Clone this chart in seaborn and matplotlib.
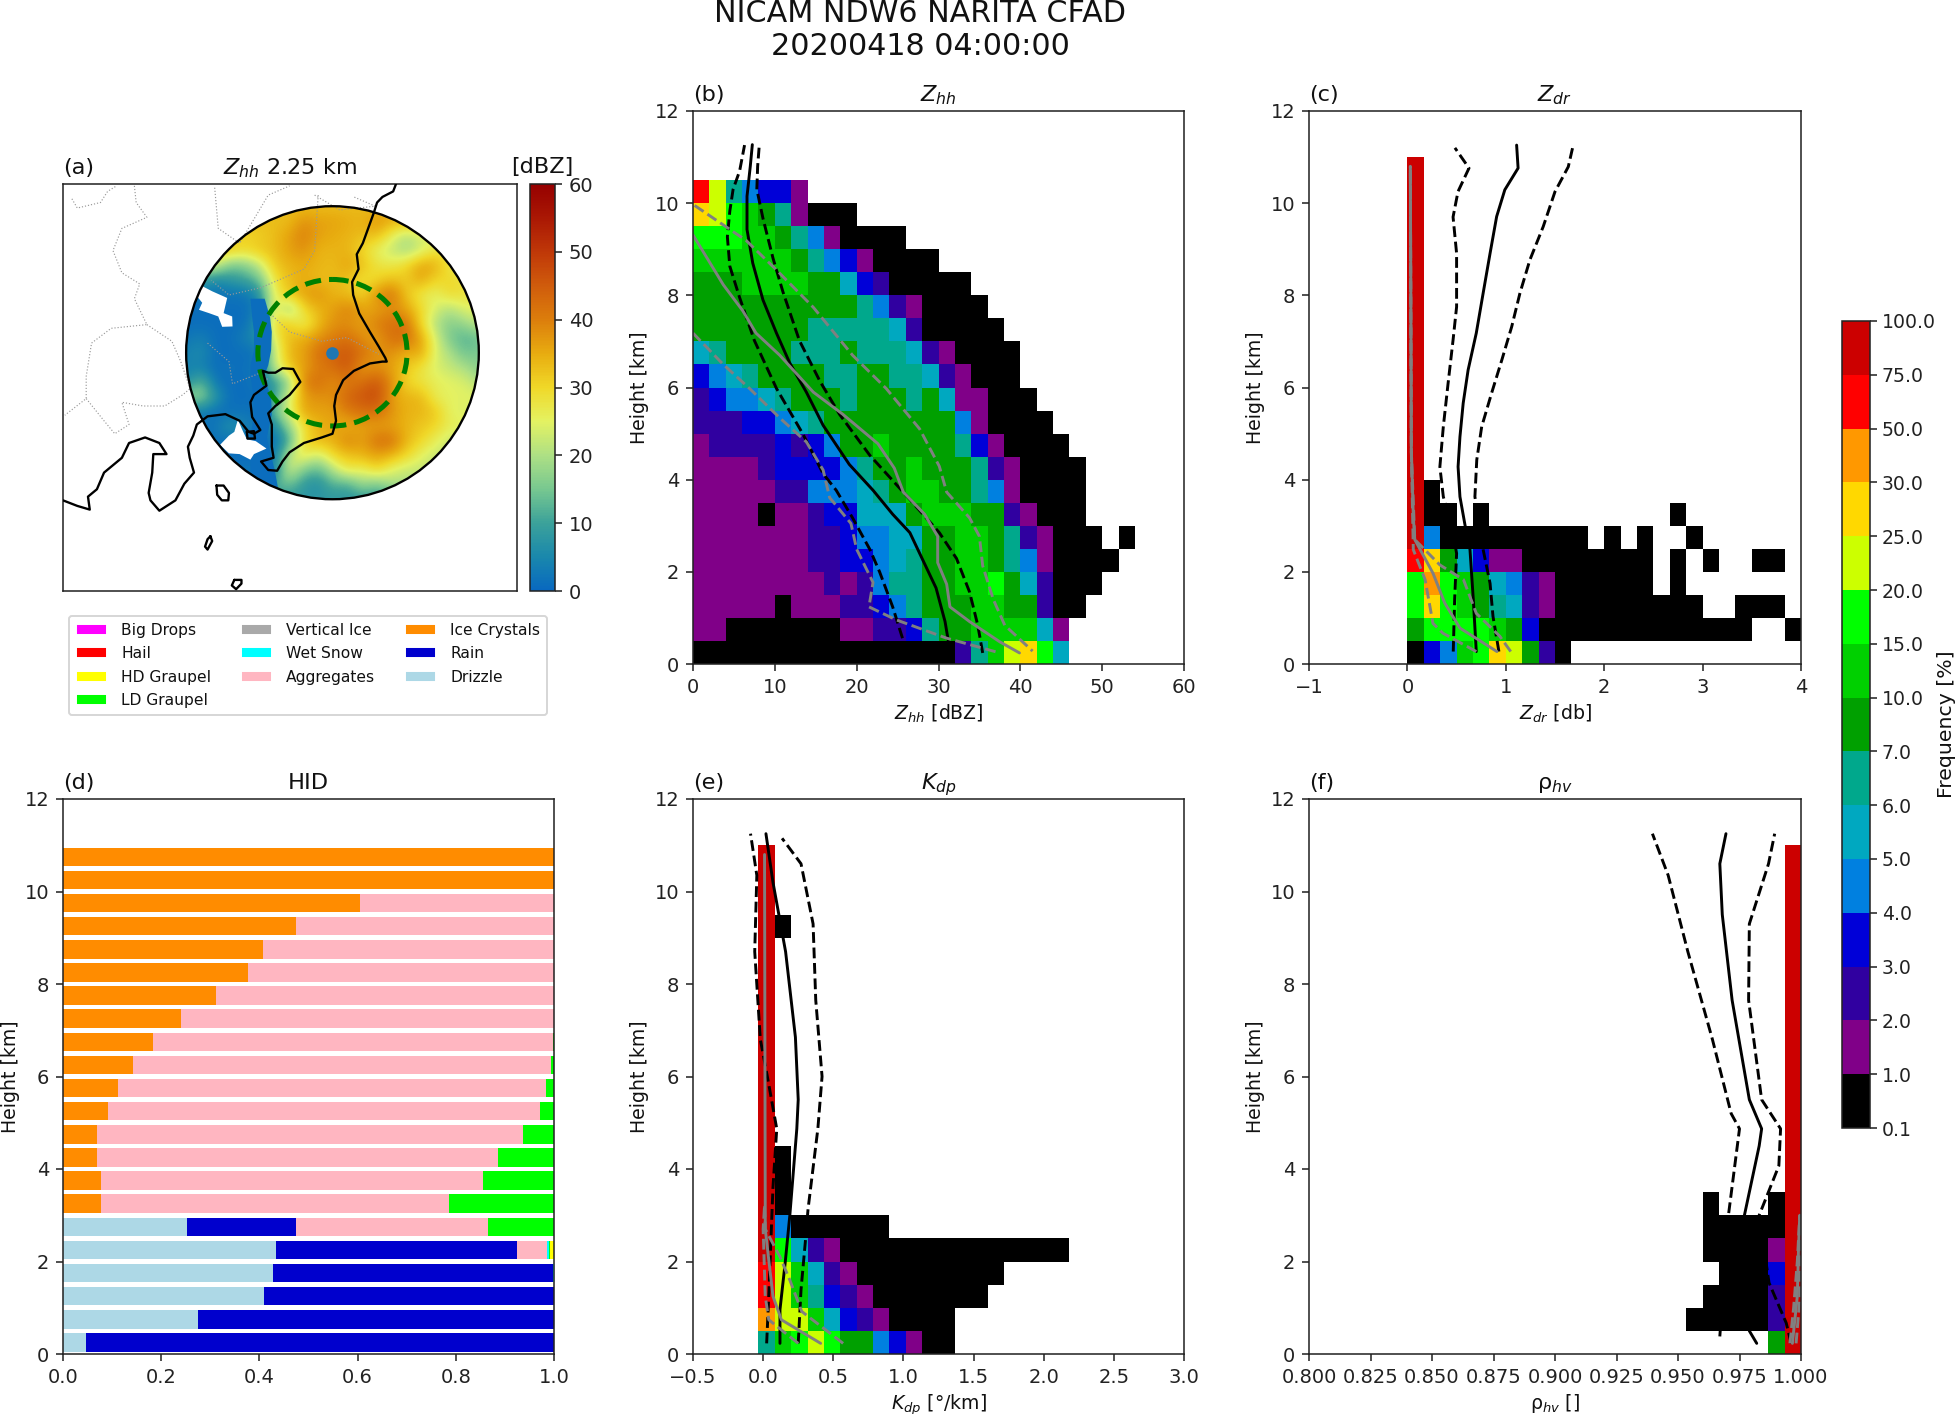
import numpy as np
import pandas as pd
import matplotlib
matplotlib.use("Agg")
import matplotlib.pyplot as plt
from matplotlib.colors import ListedColormap, BoundaryNorm, LinearSegmentedColormap, Normalize
from matplotlib.cm import ScalarMappable
from matplotlib.patches import Ellipse, Patch, Polygon
import seaborn as sns

nan = float("nan")
W, H = 1960, 1414

SUPTITLE = "NICAM NDW6 NARITA CFAD\n20200418 04:00:00"
FREQ_LEVELS = [0.1, 1, 2, 3, 4, 5, 6, 7, 10, 15, 20, 25, 30, 50, 75, 100]
FREQ_COLORS = ["#000000", "#800088", "#3000a0", "#0000d8", "#0080e0", "#00a8c0", "#00a88c",
               "#00a000", "#00d000", "#00ff00", "#ccff00", "#ffd800", "#ff9800", "#ff0000", "#cc0000"]
HEIGHT_STEP = 0.5

# CFAD frequencies [%], one list per height bin from the ground upward
ZHH_FREQ = [
    [.5]*16 + [2.5, 6.5, 12, 22, 27, 17, 5.5],
    [1.5]*2 + [.5]*7 + [1.5]*2 + [2.5]*2 + [3.5, 6.5, 8, 8, 12, 12, 12, 12, 5.5, 1.5],
    [1.5]*5 + [.5] + [1.5]*3 + [2.5]*2 + [3.5, 4.5, 6.5, 8, 8, 8, 12, 12, 8, 8, 2.5, .5, .5],
    [1.5]*8 + [2.5, 1.5, 2.5, 4.5, 6.5, 6.5, 8, 8, 12, 12, 17, 8, 5.5, 2.5, .5, .5, .5],
    [1.5]*7 + [2.5, 2.5, 3.5, 3.5, 4.5, 5.5, 6.5, 8, 8, 12, 12, 8, 6.5, 4.5, 1.5, .5, .5, .5, .5],
    [1.5]*7 + [2.5, 2.5, 3.5, 4.5, 4.5, 5.5, 5.5, 8, 8, 12, 12, 8, 6.5, 2.5, 1.5, .5, .5, .5, nan, .5],
    [1.5]*4 + [.5] + [1.5]*2 + [2.5, 3.5, 3.5, 5.5, 5.5, 5.5, 8, 12, 12, 12, 8, 8, 2.5, 1.5, .5, .5, .5],
    [1.5]*5 + [2.5, 2.5, 4.5, 4.5, 4.5, 5.5, 6.5, 8, 12, 12, 8, 8, 6.5, 4.5, 1.5, .5, .5, .5, .5],
    [1.5]*4 + [2.5, 3.5, 3.5, 3.5, 3.5, 4.5, 6.5, 8, 8, 12, 8, 8, 8, 6.5, 2.5, 1.5, .5, .5, .5, .5],
    [1.5] + [2.5]*4 + [3.5, 2.5, 3.5, 4.5, 8, 8, 12, 8, 8, 8, 8, 6.5, 3.5, 1.5, .5, .5, .5, .5],
    [2.5]*3 + [3.5, 3.5, 4.5, 5.5, 6.5] + [8]*8 + [4.5, 1.5, .5, .5, .5, .5],
    [2.5, 3.5, 4.5, 4.5, 5.5, 6.5, 8, 8, 8, 6.5, 8, 8, 8, 6.5, 8, 5.5, 1.5, 1.5, .5, .5, .5],
    [3.5, 4.5, 5.5, 6.5, 8, 8, 8, 8, 6.5, 6.5, 8, 8, 6.5, 6.5, 5.5, 2.5, 1.5, .5, .5, .5],
    [5.5, 6.5, 8, 8, 8, 8, 6.5, 6.5, 6.5, 8, 6.5, 6.5, 6.5, 5.5, 2.5, 1.5, .5, .5, .5, .5],
    [8]*7 + [6.5]*5 + [5.5, 2.5] + [.5]*5,
    [8]*10 + [6.5, 4.5, 2.5, 1.5] + [.5]*4,
    [8]*3 + [12]*4 + [8, 8, 5.5, 3.5, 2.5] + [.5]*5,
    [12]*6 + [8, 6.5, 4.5, 3.5, 1.5] + [.5]*4,
    [17]*3 + [12, 12, 8, 6.5, 4.5, 1.5] + [.5]*4,
    [27, 22, 17, 12, 8, 6.5, 1.5] + [.5]*3,
    [60, 22, 6.5, 4.5, 3.5, 3.5, 1.5],
]
ZDR_FREQ = [
    [.5, 3.5, 4.5, 12, 17, 27, 22, 8, 2.5, .5],
    [8, 17, 17, 17, 17, 12, 8, 3.5] + [.5]*13 + [nan, nan, .5],
    [17, 27, 17, 12, 8, 6.5, 5.5, 2.5, 1.5] + [.5]*9 + [nan, nan] + [.5]*3,
    [17, 40, 17, 12, 8, 5.5, 4.5, 2.5, 1.5] + [.5]*6 + [nan, .5],
    [60, 27, 8, 5.5, 3.5, 1.5, 1.5] + [.5]*8 + [nan, .5, nan, .5, nan, nan, .5, .5],
    [90, 4.5] + [.5]*9 + [nan, .5, nan, .5, nan, nan, .5],
    [90, .5, .5, nan, .5] + [nan]*11 + [.5],
    [90, .5],
] + [[90]]*14
KDP_FREQ = [
    [6.5, 12, 17, 22, 17, 8, 8, 4.5, 3.5, 1.5, .5, .5],
    [40, 22, 22, 12, 5.5, 3.5, 2.5, 1.5, .5, .5, .5, .5],
    [60, 22, 12, 6.5, 3.5, 2.5, 1.5] + [.5]*7,
    [60, 22, 12, 5.5, 2.5, 1.5] + [.5]*9,
    [90, 17, 5.5, 2.5, 1.5] + [.5]*14,
    [90, 4.5] + [.5]*6,
    [90, .5], [90, .5], [90, .5],
] + [[90]]*9 + [[90, .5]] + [[90]]*3
RHO_FREQ = [
    [nan]*5 + [8, 90],
    [.5]*5 + [2.5, 90],
    [nan] + [.5]*4 + [2.5, 90],
    [nan, nan] + [.5]*3 + [3.5, 90],
    [nan] + [.5]*4 + [1.5, 90],
    [nan] + [.5]*5 + [90],
    [nan, .5, nan, nan, nan, .5, 90],
] + [[nan]*6 + [90]]*15

# Profiles: value and height [km]
ZHH_MEAN_X = [31.2, 30.8, 29.7, 28.1, 26.5, 24.4, 22, 19.1, 15.9, 13.85, 11.8, 10.2, 8.55, 7.3, 6.6, 6.6, 7, 7.25]
ZHH_MEAN_Y = [.5, .92, 1.65, 2.25, 2.85, 3.25, 3.77, 4.33, 5.18, 5.9, 6.54, 7.18, 7.9, 8.7, 9.43, 10.15, 10.8, 11.27]
ZHH_Q1_X = [25.6, 24.4, 22.8, 21.6, 19.5, 17.5, 15.9, 13.4, 10.2, 7.5, 5.7, 4.5, 4.2, 4.5, 4.9, 5.7, 6.3]
ZHH_Q1_Y = [.56, 1.24, 2, 2.49, 3.17, 3.77, 4.13, 5, 5.98, 7.02, 7.95, 8.63, 9.27, 9.83, 10.3, 10.7, 11.26]
ZHH_Q3_X = [35.4, 34.8, 33.8, 32.2, 30.1, 26.1, 21.6, 17.9, 15.5, 13, 11, 9.8, 8.55, 7.8, 7.9, 8.1]
ZHH_Q3_Y = [.24, .84, 1.56, 2.29, 2.85, 3.65, 4.53, 5.42, 6.14, 7.02, 8.07, 8.79, 9.67, 10.3, 10.8, 11.26]
ZHH_MED_X = [0, 3.7, 6.1, 7.7, 10.6, 14.7, 18.3, 22.6, 24.6, 25.7, 28.3, 29.9, 29.9, 31, 31.4, 33.8, 37.5, 39.9]
ZHH_MED_Y = [9.31, 8.23, 7.66, 7.18, 6.7, 5.9, 5.42, 4.78, 4.25, 3.73, 3.25, 2.77, 2.2, 1.73, 1.24, .92, .48, .24]
ZHH_LOW_X = [0, 3.7, 6.9, 10.6, 13.85, 15.9, 16.7, 19.3, 20, 22, 21.5, 24.8, 31, 37.5]
ZHH_LOW_Y = [7.18, 6.5, 5.98, 5.34, 4.82, 4.21, 3.61, 3.05, 2.49, 1.77, 1.24, .96, .56, .24]
ZHH_UPP_X = [.2, 6.5, 10.2, 14.7, 19.5, 23.6, 27.7, 30.1, 31, 33.8, 35, 35.4, 36.7, 38.1, 41.5]
ZHH_UPP_Y = [9.95, 9.19, 8.55, 7.74, 6.7, 5.98, 5.1, 4.29, 3.73, 3.17, 2.77, 2.13, 1.4, .84, .28]

ZDR_MEAN_X = [.70, .67, .636, .585, .534, .515, .534, .567, .617, .70, .77, .84, .907, .99, 1.125, 1.11]
ZDR_MEAN_Y = [.27, 1.39, 2.48, 3.02, 3.63, 4.28, 4.93, 5.66, 6.38, 7.18, 8.05, 8.91, 9.71, 10.29, 10.76, 11.26]
ZDR_Q1_X = [.466, .48, .5, .45, .365, .33, .365, .414, .464, .50, .50, .464, .514, .626, .483]
ZDR_Q1_Y = [.27, 1.39, 2.4, 3.0, 3.63, 4.28, 5.15, 6.1, 7.03, 7.75, 8.91, 9.7, 10.25, 10.76, 11.2]
ZDR_Q3_X = [.93, .87, .84, .77, .686, .705, .755, .856, .96, 1.06, 1.144, 1.245, 1.38, 1.50, 1.635, 1.683]
ZDR_Q3_Y = [.27, 1.03, 1.75, 2.48, 3.63, 4.43, 5.15, 5.88, 6.6, 7.32, 8.05, 8.77, 9.49, 10.25, 10.79, 11.24]
ZDR_MED_X = [.91, .534, .38, .26, .075, .06, .04, .03]
ZDR_MED_Y = [.27, .78, 1.32, 1.97, 2.7, 3.2, 4.65, 10.8]
ZDR_LOW_X = [.70, .36, .26, .18, .06, .04, .03]
ZDR_LOW_Y = [.27, .67, .88, 1.83, 2.48, 4.6, 10.8]
ZDR_UPP_X = [1.05, .94, .70, .57, .33, .075, .04, .03]
ZDR_UPP_Y = [.27, .6, 1.1, 1.83, 2.15, 2.7, 4.6, 10.8]

KDP_MEAN_X = [.12, .12, .157, .19, .24, .25, .23, .16, .07, .02]
KDP_MEAN_Y = [.23, .96, 1.97, 2.99, 4.87, 5.5, 6.85, 8.7, 10.2, 11.25]
KDP_Q1_X = [.025, .04, .07, .097, .03, -.02, -.06, -.045, -.09]
KDP_Q1_Y = [.23, 1.25, 3.6, 4.87, 6, 6.8, 8.7, 10.35, 11.25]
KDP_Q3_X = [.25, .27, .3, .32, .39, .42, .375, .356, .27, .135]
KDP_Q3_Y = [.23, 1.39, 2.4, 3.13, 4.87, 6.0, 7.65, 9.3, 10.6, 11.15]
KDP_MED_X = [.41, .13, .07, .015, .015, .01]
KDP_MED_Y = [.23, .74, 1.25, 2.7, 3, 10.8]
KDP_LOW_X = [.25, .04, .015, 0, .01]
KDP_LOW_Y = [.23, .74, 1.25, 2.7, 3.2]
KDP_UPP_X = [.57, .275, .19, .12, .015, .01]
KDP_UPP_Y = [.23, .92, 1.6, 2.1, 2.7, 3.2]

RHO_MEAN_X = [.982, .979, .975, .977, .983, .984, .979, .972, .968, .967, .9695]
RHO_MEAN_Y = [.23, .5, 2, 3, 4.5, 4.87, 5.5, 7.65, 9.5, 10.6, 11.25]
RHO_Q1_X = [.967, .9705, .975, .9716, .964, .954, .946, .9396]
RHO_Q1_Y = [.38, 3, 4.87, 5.2, 6.8, 8.7, 10.35, 11.25]
RHO_Q3_X = [.996, .994, .987, .983, .986, .991, .9917, .984, .9787, .979, .9868, .9893]
RHO_Q3_Y = [.23, .67, 1.54, 3, 3.4, 4.07, 4.87, 5.5, 7.65, 9.3, 10.6, 11.25]
RHO_MED_X = [.9965, .9985, .999, .9995]
RHO_MED_Y = [.23, 1.25, 2.3, 3]
RHO_LOW_X = [.9955, .997, .9985, .9995]
RHO_LOW_Y = [.23, 1.0, 2.0, 3]
RHO_UPP_X = [.998, .9995, .9995]
RHO_UPP_Y = [.23, 1.2, 3]

# HID fractions per height bin, from the ground upward
HID_DRIZZLE = [.047, .275, .41, .428, .434, .253] + [0]*16
HID_RAIN = [.953, .725, .59, .570, .491, .221] + [0]*16
HID_ICE = [0]*6 + [.078, .078, .07, .07, .092, .111, .142, .184, .24, .312, .376, .407, .474, .605, 1, 1]
HID_AGG = [0, 0, 0, 0, .06, .392, .708, .778, .816, .866, .879, .872, .852, .814, .76, .688, .624, .593, .526, .395, 0, 0]
HID_WET = [0, 0, 0, .002, .004] + [0]*17
HID_LD = [0, 0, 0, 0, .003, .134, .214, .144, .114, .064, .029, .017, .006, .002] + [0]*8
HID_HD = [0, 0, 0, 0, .008] + [0]*17
HID_STACK = [("Drizzle", HID_DRIZZLE, "lightblue"), ("Rain", HID_RAIN, "#0000cd"),
             ("Ice Crystals", HID_ICE, "darkorange"), ("Aggregates", HID_AGG, "lightpink"),
             ("Wet Snow", HID_WET, "cyan"), ("LD Graupel", HID_LD, "lime"), ("HD Graupel", HID_HD, "yellow")]
LEGEND_ITEMS = [("Big Drops", "magenta"), ("Hail", "red"), ("HD Graupel", "yellow"), ("LD Graupel", "lime"),
                ("Vertical Ice", "darkgray"), ("Wet Snow", "cyan"), ("Aggregates", "lightpink"),
                ("Ice Crystals", "darkorange"), ("Rain", "#0000cd"), ("Drizzle", "lightblue")]

# Map panel: reflectivity [dBZ] read on a regular grid across the radar disc, top row first
MAP_X = list(range(410, 1231, 41))
MAP_Y = [180, 220, 259, 299, 338, 378, 418, 457, 497, 536, 576, 616, 655, 695, 734, 774, 814, 853, 893, 932, 972]
MAP_DBZ = [
    [33]*21,
    [33]*7 + [33, 38, 36, 36, 35, 34, 38, 35] + [35]*6,
    [30]*4 + [30, 31, 33, 36, 40, 36, 35, 34, 33, 33, 26, 20, 24] + [24]*4,
    [32]*3 + [32, 30, 32, 33, 36, 38, 34, 34, 34, 30, 25, 22, 19, 23, 28] + [28]*3,
    [24]*2 + [24, 15, 16, 22, 32, 34, 35, 34, 33, 36, 33, 28, 27, 30, 36, 35, 27] + [27]*2,
    [10, 10, 5, 8, 10, 14, 28, 33, 35, 33, 33, 33, 28, 30, 33, 31, 36, 30, 30, 28, 28],
    [2, 2, 2, 2, 2, 6, 26, 32, 36, 38, 34, 33, 30, 38, 42, 32, 27, 25, 30, 28, 28],
    [1, 1, 1, 1, 1, 4, 28, 16, 30, 34, 36, 40, 36, 36, 38, 36, 30, 24, 20, 25, 25],
    [1, 1, 1, 1, 1, 8, 30, 32, 25, 33, 38, 38, 36, 40, 42, 42, 30, 20, 16, 18, 22],
    [2, 4, 1, 1, 4, 6, 26, 33, 35, 38, 40, 42, 38, 36, 42, 42, 36, 24, 15, 12, 14],
    [4, 6, 1, 1, 1, 2, 22, 34, 36, 42, 44, 46, 42, 38, 38, 34, 36, 24, 20, 14, 16],
    [4, 4, 1, 2, 1, 4, 22, 32, 36, 40, 42, 46, 36, 38, 36, 32, 28, 24, 22, 20, 16],
    [5, 14, 2, 1, 1, 3, 8, 16, 40, 42, 38, 40, 42, 46, 38, 30, 28, 26, 25, 24, 20],
    [18, 18, 8, 1, 1, 1, 10, 24, 36, 38, 38, 44, 46, 48, 36, 34, 34, 26, 25, 25, 25],
    [3, 3, 1, 1, 2, 1, 14, 24, 36, 36, 36, 40, 42, 42, 38, 34, 34, 32, 25, 24, 24],
    [2, 2, 2, 8, 4, 2, 5, 18, 28, 34, 36, 34, 36, 36, 36, 34, 32, 30, 26, 26, 26],
    [2, 2, 2, 1, 1, 1, 1, 10, 30, 34, 34, 40, 36, 42, 42, 34, 30, 26, 22, 22, 22],
    [1, 1, 1, 1, 1, 1, 3, 22, 28, 22, 30, 32, 34, 36, 34, 30, 25, 22, 22, 22, 22],
    [2, 2, 2, 2, 2, 2, 3, 24, 15, 12, 20, 28, 25, 30, 24, 22, 22, 22, 22, 22, 22],
    [5]*6 + [12, 14, 8, 6, 12, 10, 18, 14, 20] + [20]*6,
    [8]*21,
]
NO_ECHO_AREAS = [
    ([455, 483, 525, 515, 539, 540, 511, 500, 474, 446, 455, 441],
     [396, 410, 428, 469, 478, 505, 506, 478, 469, 460, 441, 424]),
    ([555, 570, 580, 605, 635, 600, 590, 560, 530, 505, 530, 545],
     [757, 790, 810, 815, 835, 850, 865, 850, 848, 825, 800, 790]),
]
# Strip along the sharp eastern edge of the weakest echoes
WEAK_EDGE_X = [630, 645, 650, 648, 640, 628, 648, 650, 636, 659, 668, 620, 590, 590, 600, 600, 590, 590, 600, 600, 595, 590]
WEAK_EDGE_Y = [430, 480, 520, 570, 610, 640, 698, 743, 806, 897, 945, 945, 897, 806, 743, 698, 640, 610, 570, 520, 480, 430]
COAST_X = [998, 990, 960, 945, 935, 920, 905, 888, 893, 875, 878, 895, 925, 950, 968, 972, 960, 925, 880, 850, 830, 825, 830, 820, 790, 740, 700, 680, 665, 640, 620, 655, 650, 650, 640, 660, 700, 730, 710, 680, 660, 640, 625, 635, 600, 590, 595, 618, 600, 585, 560, 520, 470, 440, 430, 415, 420, 432, 405, 380, 335, 310, 305, 315, 318, 355, 335, 295, 250, 230, 180, 160, 135, 140, 105, 65]
COAST_Y = [120, 140, 155, 170, 200, 240, 280, 310, 350, 385, 420, 470, 520, 560, 590, 600, 600, 605, 625, 650, 690, 720, 760, 795, 805, 820, 845, 870, 895, 893, 870, 860, 830, 770, 740, 720, 690, 655, 620, 618, 630, 630, 625, 665, 690, 710, 750, 785, 795, 790, 760, 742, 748, 770, 800, 830, 860, 900, 930, 975, 1003, 975, 955, 900, 850, 850, 820, 805, 820, 860, 900, 945, 965, 1000, 990, 975]
ISLANDS = [
    ([495, 515, 530, 528, 510, 497, 495], [935, 935, 955, 975, 975, 960, 935]),
    ([478, 483, 470, 463, 470, 478], [1072, 1085, 1108, 1100, 1080, 1072]),
    ([545, 565, 565, 550, 538, 545], [1190, 1190, 1200, 1215, 1205, 1190]),
    ([580, 600, 603, 582, 580], [790, 788, 808, 808, 790]),
]
BORDERS = [
    ([90, 105, 170, 190, 215], [160, 185, 170, 140, 125]),
    ([265, 270, 300, 230, 205, 230, 280, 265, 300, 200, 145, 130, 130, 70], [125, 170, 210, 240, 300, 360, 390, 430, 500, 510, 550, 640, 700, 745]),
    ([300, 370, 395, 420], [500, 545, 600, 670]),
    ([130, 180, 210, 250, 230, 290, 350, 400, 425], [700, 760, 795, 770, 710, 720, 720, 690, 670]),
    ([640, 700, 790, 860, 950], [465, 520, 545, 535, 580]),
    ([470, 530, 540, 620, 640], [550, 600, 660, 630, 650]),
    ([780, 770, 740, 620, 530, 480], [150, 300, 350, 400, 420, 380]),
    ([770, 840, 940, 880], [150, 190, 180, 155]),
    ([490, 500, 560, 640, 700], [130, 240, 280, 150, 125]),
]

sns.set_style("ticks", {"axes.edgecolor": "#222222", "xtick.color": "#222222", "ytick.color": "#222222",
                        "text.color": "#111111", "axes.labelcolor": "#111111",
                        "xtick.direction": "out", "ytick.direction": "out"})
plt.rcParams.update({"font.size": 10, "font.family": ["DejaVu Sans"], "axes.titlesize": 11.5, "axes.labelsize": 9.7,
                     "xtick.labelsize": 10, "ytick.labelsize": 10, "mathtext.default": "it"})

fig = plt.figure(figsize=(W/140, H/140), dpi=140)


def px_axes(left, top, right, bottom):
    return fig.add_axes([left/W, 1-bottom/H, (right-left)/W, (bottom-top)/H])


freq_cmap = ListedColormap(FREQ_COLORS)
freq_norm = BoundaryNorm(FREQ_LEVELS, freq_cmap.N)


def draw_cfad(ax, rows, x_start, bin_width):
    n = max(len(r) for r in rows)
    grid = np.full((len(rows), n), np.nan)
    for i, r in enumerate(rows):
        grid[i, :len(r)] = r
    xe = x_start + bin_width*np.arange(n+1)
    ye = HEIGHT_STEP*np.arange(len(rows)+1)
    ax.pcolormesh(xe, ye, np.ma.masked_invalid(grid), cmap=freq_cmap, norm=freq_norm, edgecolors="none", linewidth=0, rasterized=True)


def prof(ax, x, y, color, dash=False):
    df = pd.DataFrame({"x": x, "y": y})
    sns.lineplot(data=df, x="x", y="y", sort=False, estimator=None, color=color,
                 linestyle="--" if dash else "-", linewidth=1.5, ax=ax, legend=False)


def finish(ax, tag, title, xlabel, xlim, xticks):
    ax.set_xlim(*xlim)
    ax.set_ylim(0, 12)
    ax.set_xticks(xticks)
    ax.set_yticks(range(0, 13, 2))
    ax.set_ylabel("Height [km]", labelpad=3)
    ax.set_xlabel(xlabel, labelpad=3)
    ax.set_title(tag, loc="left", pad=5)
    ax.set_title(title, loc="center", pad=5)


def panel(box, rows, x_start, bw, black, gray, tag, title, xlabel, xlim, xticks):
    ax = px_axes(*box)
    draw_cfad(ax, rows, x_start, bw)
    prof(ax, *black[0], "black")
    prof(ax, *black[1], "black", True)
    prof(ax, *black[2], "black", True)
    prof(ax, *gray[0], "gray")
    prof(ax, *gray[1], "gray", True)
    prof(ax, *gray[2], "gray", True)
    finish(ax, tag, title, xlabel, xlim, xticks)
    return ax


panel((693, 111, 1184, 664), ZHH_FREQ, 0, 2,
      [(ZHH_MEAN_X, ZHH_MEAN_Y), (ZHH_Q1_X, ZHH_Q1_Y), (ZHH_Q3_X, ZHH_Q3_Y)],
      [(ZHH_MED_X, ZHH_MED_Y), (ZHH_LOW_X, ZHH_LOW_Y), (ZHH_UPP_X, ZHH_UPP_Y)],
      "(b)", "$Z_{hh}$", "$Z_{hh}$ [dBZ]", (0, 60), range(0, 61, 10))
panel((1309, 111, 1801, 664), ZDR_FREQ, 0, 1/6,
      [(ZDR_MEAN_X, ZDR_MEAN_Y), (ZDR_Q1_X, ZDR_Q1_Y), (ZDR_Q3_X, ZDR_Q3_Y)],
      [(ZDR_MED_X, ZDR_MED_Y), (ZDR_LOW_X, ZDR_LOW_Y), (ZDR_UPP_X, ZDR_UPP_Y)],
      "(c)", "$Z_{dr}$", "$Z_{dr}$ [db]", (-1, 4), range(-1, 5))
panel((693, 799, 1184, 1354), KDP_FREQ, -0.5 + 4*3.5/30, 3.5/30,
      [(KDP_MEAN_X, KDP_MEAN_Y), (KDP_Q1_X, KDP_Q1_Y), (KDP_Q3_X, KDP_Q3_Y)],
      [(KDP_MED_X, KDP_MED_Y), (KDP_LOW_X, KDP_LOW_Y), (KDP_UPP_X, KDP_UPP_Y)],
      "(e)", "$K_{dp}$", "$K_{dp}$ [°/km]", (-0.5, 3), np.arange(-0.5, 3.01, 0.5))
axf = panel((1309, 799, 1801, 1354), RHO_FREQ, 1.0 - 7*0.2/30, 0.2/30,
            [(RHO_MEAN_X, RHO_MEAN_Y), (RHO_Q1_X, RHO_Q1_Y), (RHO_Q3_X, RHO_Q3_Y)],
            [(RHO_MED_X, RHO_MED_Y), (RHO_LOW_X, RHO_LOW_Y), (RHO_UPP_X, RHO_UPP_Y)],
            "(f)", "ρ$_{hv}$", "ρ$_{hv}$ []", (0.8, 1.0), np.arange(0.8, 1.001, 0.025))
axf.set_xticklabels([f"{v:.3f}" for v in np.arange(0.8, 1.001, 0.025)])

# (d) HID stacked bars
axd = px_axes(63, 799, 554, 1354)
h_centers = HEIGHT_STEP*(np.arange(22)+0.5)
left = np.zeros(22)
for name, vals, col in HID_STACK:
    axd.barh(h_centers, vals, left=left, height=0.4, color=col, linewidth=0)
    left = left + np.array(vals)
finish(axd, "(d)", "HID", "", (0, 1), np.arange(0, 1.01, 0.2))
axd.set_ylabel("Height [km]", labelpad=2.5)

# (a) map
axm = px_axes(63, 184, 517, 591)
field_cmap = LinearSegmentedColormap.from_list("zhh", [
    (0, "#0868c0"), (5/60, "#1a88ac"), (10/60, "#3ca29a"), (15/60, "#78c890"), (20/60, "#aee084"), (25/60, "#e4f262"),
    (30/60, "#f0d828"), (35/60, "#e8ac10"), (40/60, "#dc7e0c"), (45/60, "#d05c0c"), (50/60, "#c03808"), (55/60, "#aa1804"), (1, "#960000")])
field_norm = Normalize(0, 60)
dx, dy = 20.5, 19.8
im = axm.imshow(np.array(MAP_DBZ, dtype=float), cmap=field_cmap, norm=field_norm, aspect="auto", interpolation="bicubic",
                extent=(MAP_X[0]-dx, MAP_X[-1]+dx, MAP_Y[-1]+dy, MAP_Y[0]-dy))
disc = Ellipse((820, 576), 820, 792, transform=axm.transData, facecolor="none", edgecolor="black", linewidth=1.2, zorder=4)
axm.add_patch(disc)
im.set_clip_path(disc)
weak = Polygon(np.column_stack([WEAK_EDGE_X, WEAK_EDGE_Y]), closed=True, facecolor=field_cmap(field_norm(0.8)),
               edgecolor="none", zorder=1.5)
axm.add_patch(weak)
weak.set_clip_path(disc)
for ax_, ay_ in NO_ECHO_AREAS:
    hole = Polygon(np.column_stack([ax_, ay_]), closed=True, facecolor="white", edgecolor="none", zorder=2)
    axm.add_patch(hole)
    hole.set_clip_path(disc)
axm.add_patch(Ellipse((820, 576), 418, 396, facecolor="none", edgecolor="green", linewidth=2.6, linestyle=(0, (3.2, 1.6)), zorder=5))
for bx, by in BORDERS:
    axm.plot(bx, by, color="#999999", lw=0.6, ls=":", zorder=3)
axm.plot(COAST_X, COAST_Y, color="black", lw=1.2, zorder=6)
for ix, iy in ISLANDS:
    axm.plot(ix, iy, color="black", lw=1.2, zorder=6)
sns.scatterplot(x=[820], y=[576], color="tab:blue", s=42, linewidth=0, ax=axm, zorder=7, legend=False)
axm.set_xlim(65, 1337)
axm.set_ylim(1220, 120)
axm.set_xticks([])
axm.set_yticks([])
axm.set_title("(a)", loc="left", pad=5)
axm.set_title("$Z_{hh}$ 2.25 km", loc="center", pad=5)

cax = px_axes(530, 184, 555, 591)
cb = fig.colorbar(ScalarMappable(norm=field_norm, cmap=field_cmap), cax=cax, ticks=range(0, 61, 10))
cb.outline.set_linewidth(0.8)
fig.text(573/W, 1-(167/H), "[dBZ]", ha="right", va="center", fontsize=11.5)

# Legend
handles = [Patch(facecolor=c, label=n) for n, c in LEGEND_ITEMS]
fig.legend(handles=handles, ncol=3, loc="center", bbox_to_anchor=(308/W, 1-665.5/H), fontsize=8, frameon=True,
           columnspacing=1.92, handlelength=2.0, handletextpad=0.9, borderpad=0.45, labelspacing=0.55, edgecolor="#cccccc")

# Frequency colorbar
cfax = px_axes(1842, 321, 1870, 1128)
cbf = fig.colorbar(ScalarMappable(norm=freq_norm, cmap=freq_cmap), cax=cfax, ticks=FREQ_LEVELS, spacing="uniform")
cbf.ax.set_yticklabels([f"{v:.1f}" for v in FREQ_LEVELS])
cbf.ax.tick_params(labelsize=9.7, pad=2.5)
cbf.outline.set_linewidth(0.8)
fig.text(1947/W, 1-(724/H), "Frequency [%]", rotation=90, ha="center", va="center", fontsize=10.5)

fig.text(920/W, 1-30/H, SUPTITLE, ha="center", va="center", fontsize=15.5, linespacing=1.18)
fig.savefig("out.png", dpi=140)
